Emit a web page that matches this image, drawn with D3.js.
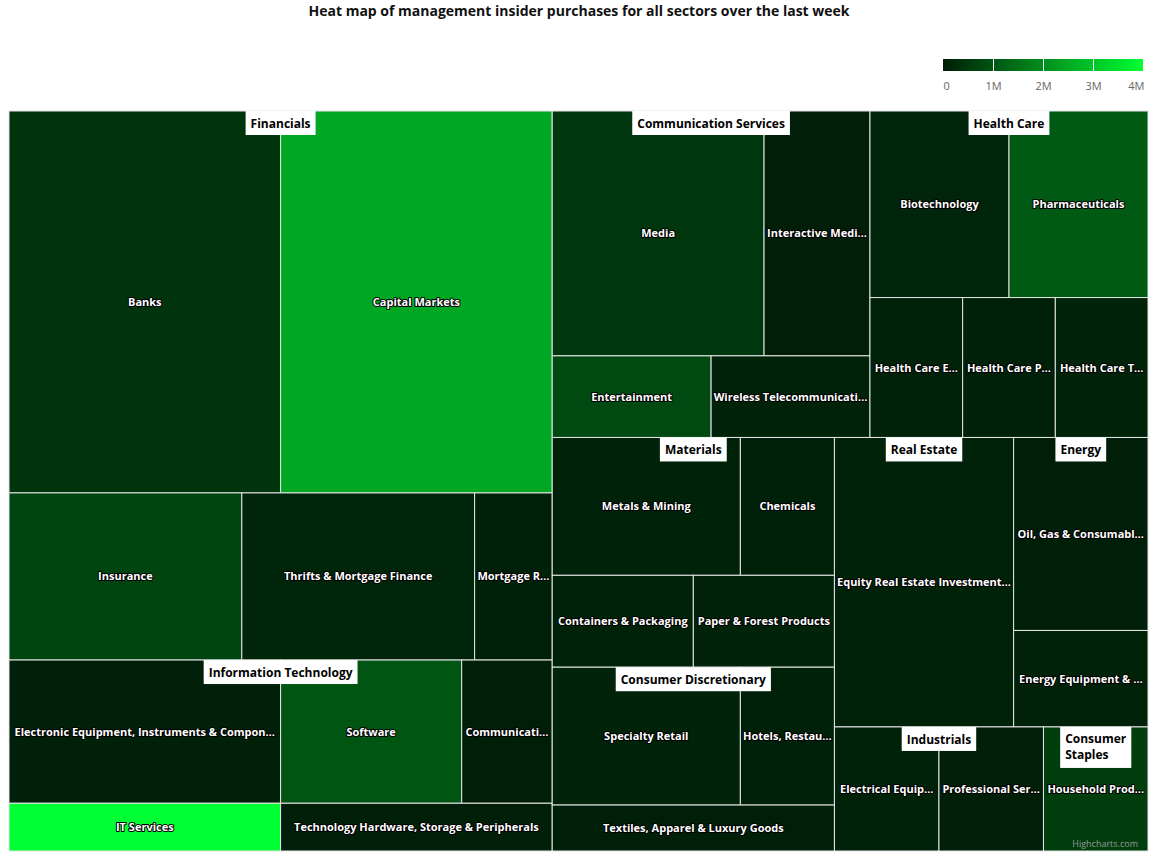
<!DOCTYPE html>
<html><head><meta charset="utf-8">
<script src="https://cdn.jsdelivr.net/npm/d3@7"></script>
<style>
body{margin:0;background:#fff;}
svg{display:block;font-family:"Open Sans",sans-serif;}
</style>
</head><body>
<svg id="chart" width="1158" height="860"></svg>
<script>
// ---------- DATA ----------
const titleText = "Heat map of management insider purchases for all sectors over the last week";
const sectors = ["Financials","Information Technology","Communication Services","Health Care","Materials",
  "Consumer Discretionary","Real Estate","Energy","Industrials","Consumer Staples"];
const industries = [
  "Banks","Capital Markets","Insurance","Thrifts & Mortgage Finance","Mortgage Real Estate Investment Trusts (REITs)",
  "Electronic Equipment, Instruments & Components","Software","Communications Equipment","IT Services","Technology Hardware, Storage & Peripherals",
  "Media","Interactive Media & Services","Entertainment","Wireless Telecommunication Services",
  "Biotechnology","Pharmaceuticals","Health Care Equipment & Supplies","Health Care Providers & Services","Health Care Technology",
  "Metals & Mining","Chemicals","Containers & Packaging","Paper & Forest Products",
  "Specialty Retail","Hotels, Restaurants & Leisure","Textiles, Apparel & Luxury Goods",
  "Equity Real Estate Investment Trusts (REITs)",
  "Oil, Gas & Consumable Fuels","Energy Equipment & Services",
  "Electrical Equipment","Professional Services",
  "Household Products"];
const industrySector = [
  "Financials","Financials","Financials","Financials","Financials",
  "Information Technology","Information Technology","Information Technology","Information Technology","Information Technology",
  "Communication Services","Communication Services","Communication Services","Communication Services",
  "Health Care","Health Care","Health Care","Health Care","Health Care",
  "Materials","Materials","Materials","Materials",
  "Consumer Discretionary","Consumer Discretionary","Consumer Discretionary",
  "Real Estate",
  "Energy","Energy",
  "Industrials","Industrials",
  "Consumer Staples"];
// number of purchases (cell size)
const purchaseCounts = [8,8,3,3,1, 3,2,1,1,1, 4,2,1,1, 2,2,1,1,1, 2,1,1,1, 2,1,1, 4, 2,1, 1,1, 1];
// purchase value in $ (cell colour)
const purchaseValues = [
  420000,2450000,700000,150000,80000,
  70000,1000000,50000,4000000,50000,
  450000,30000,800000,100000,
  150000,1100000,100000,80000,120000,
  100000,80000,100000,120000,
  120000,80000,50000,
  100000,
  60000,100000,
  100000,40000,
  600000];
const legendTicks = [0,1000000,2000000,3000000,4000000];
const legendTickLabels = ["0","1M","2M","3M","4M"];
const creditText = "Highcharts.com";

// ---------- LAYOUT ----------
const svg = d3.select("#chart");
const plot = {x:9, y:111, w:1139, h:740};
const minColor = "#001c08", maxColor = "#00ff33";
const color = d3.scaleLinear().domain([0,4000000]).range([minColor,maxColor]).interpolate(d3.interpolateRgb).clamp(true);

// Highcharts-like "squarified" tiling (low aspect ratio, alternating direction)
function tileHC(node, x0, y0, x1, y1){
  const kids = node.children;
  let dir = node.depth % 2; // 0: column, 1: row
  let rx = x0, ry = y0, rw = x1 - x0, rh = y1 - y0;
  const scale = (rw*rh) / node.value;
  const ar = (a,b) => Math.max(a/b, b/a);
  let group = [];
  function place(items){
    const sum = d3.sum(items, d => d.value*scale);
    if(dir === 0){
      const w = sum/rh; let y = ry;
      items.forEach(c => { const h = c.value*scale/w; c.x0 = rx; c.x1 = rx+w; c.y0 = y; c.y1 = y+h; y += h; });
      rx += w; rw -= w;
    } else {
      const h = sum/rw; let x = rx;
      items.forEach(c => { const w = c.value*scale/h; c.x0 = x; c.x1 = x+w; c.y0 = ry; c.y1 = ry+h; x += w; });
      ry += h; rh -= h;
    }
    dir = 1 - dir;
  }
  kids.forEach((c,i) => {
    if(group.length){
      const last = group[group.length-1].value*scale;
      const oldSum = d3.sum(group, d => d.value*scale);
      const newSum = oldSum + c.value*scale;
      let lR, nR;
      if(dir === 0){ const lw = oldSum/rh, nw = newSum/rh; lR = ar(lw, last/lw); nR = ar(nw, last/nw); }
      else { const lh = oldSum/rw, nh = newSum/rw; lR = ar(last/lh, lh); nR = ar(last/nh, nh); }
      if(nR > lR){ place(group); group = []; }
    }
    group.push(c);
    if(i === kids.length-1) place(group);
  });
}

const rootData = {name:"root", children: sectors.map(s => ({
  name:s,
  children: industries.map((n,i)=>({name:n, sector:industrySector[i], count:purchaseCounts[i], val:purchaseValues[i]}))
                      .filter(d => d.sector === s)
}))};
const root = d3.hierarchy(rootData).sum(d => d.count || 0);
d3.treemap().tile(tileHC).size([plot.w, plot.h])(root);

const g = svg.append("g").attr("transform", `translate(${plot.x},${plot.y})`);

// leaves
const leaves = root.leaves();
g.selectAll("rect.leaf").data(leaves).join("rect")
  .attr("class","leaf")
  .attr("x", d => d.x0).attr("y", d => d.y0)
  .attr("width", d => d.x1-d.x0).attr("height", d => d.y1-d.y0)
  .attr("fill", d => color(d.data.val))
  .attr("stroke", "#e6e6e6").attr("stroke-width", 1);

// leaf labels
function fitText(sel, maxW){
  sel.each(function(d){
    const t = d3.select(this);
    const full = t.text();
    if(this.getComputedTextLength() <= maxW(d)) return;
    let s = full;
    while(s.length > 1){
      s = s.slice(0,-1);
      t.text(s + "\u2026");
      if(this.getComputedTextLength() <= maxW(d)) break;
    }
  });
}
const leafLabels = g.selectAll("text.leaf").data(leaves).join("text")
  .attr("class","leaf")
  .attr("x", d => (d.x0+d.x1)/2)
  .attr("y", d => (d.y0+d.y1)/2 + 4)
  .attr("text-anchor","middle")
  .attr("font-size", 11).attr("font-weight","bold")
  .attr("fill","#fff")
  .attr("stroke","#000").attr("stroke-width",2).attr("stroke-linejoin","round")
  .attr("paint-order","stroke")
  .text(d => d.data.name);
fitText(leafLabels, d => (d.x1-d.x0) - 5);

// sector labels (white boxes at top centre)
const secs = root.children;
secs.forEach(s => {
  const sw = s.x1 - s.x0;
  const cx = (s.x0+s.x1)/2;
  const lg = g.append("g");
  const words = s.data.name.split(" ");
  const maxW = sw - 16;
  let lines = [], cur = "";
  const meas = lg.append("text").attr("font-size",12).attr("font-weight","bold").attr("visibility","hidden");
  words.forEach(w => {
    const test = cur ? cur + " " + w : w;
    meas.text(test);
    if(meas.node().getComputedTextLength() > maxW && cur){ lines.push(cur); cur = w; } else cur = test;
  });
  lines.push(cur);
  let widest = 0;
  lines.forEach(l => { meas.text(l); widest = Math.max(widest, meas.node().getComputedTextLength()); });
  meas.remove();
  const padX = 5, lineH = lines.length > 1 ? 16.5 : 14;
  const boxW = widest + padX*2, boxH = lines.length > 1 ? 8 + lineH*lines.length : 24;
  const bx = cx - boxW/2, by = s.y0;
  lg.append("rect").attr("x",bx).attr("y",by).attr("width",boxW).attr("height",boxH).attr("fill","#fff");
  lines.forEach((l,i) => {
    lg.append("text").attr("font-size",12).attr("font-weight","bold").attr("fill","#000")
      .attr("x", bx+padX).attr("y", by + (lines.length > 1 ? 16 : 17) + i*lineH).text(l);
  });
});

// title
svg.append("text").attr("x", 579).attr("y", 16).attr("text-anchor","middle")
  .attr("font-size", 14).attr("font-weight","bold").attr("fill","#111").text(titleText);

// colour legend
const lx0 = 943, lx1 = 1143, ly = 59, lh = 12;
const defs = svg.append("defs");
const grad = defs.append("linearGradient").attr("id","lg").attr("x1","0%").attr("x2","100%");
grad.append("stop").attr("offset","0%").attr("stop-color",minColor);
grad.append("stop").attr("offset","100%").attr("stop-color",maxColor);
svg.append("rect").attr("x",lx0).attr("y",ly).attr("width",lx1-lx0).attr("height",lh).attr("fill","url(#lg)");
const lscale = d3.scaleLinear().domain([0,4000000]).range([lx0,lx1]);
const laxis = svg.append("g").attr("transform",`translate(0,${ly})`)
  .call(d3.axisBottom(lscale).tickValues(legendTicks).tickFormat((d,i)=>legendTickLabels[i]).tickSize(lh).tickPadding(11));
laxis.select(".domain").remove();
laxis.selectAll(".tick line").attr("stroke","#fff").attr("stroke-width",1)
  .attr("display",(d,i)=> (i===0||i===legendTicks.length-1) ? "none" : null);
laxis.selectAll(".tick text").attr("fill","#666").attr("font-size",11).attr("font-family","Open Sans, sans-serif")
  .attr("text-anchor",(d,i)=> i===legendTicks.length-1 ? "end" : (i===0 ? "start":"middle"))
  .attr("dx",(d,i)=> i===0 ? 0 : (i===legendTicks.length-1 ? 1 : 0));

// credits
svg.append("text").attr("x",1138).attr("y",847).attr("text-anchor","end")
  .attr("font-size",9).attr("fill","#999").text(creditText);
</script>
</body></html>
